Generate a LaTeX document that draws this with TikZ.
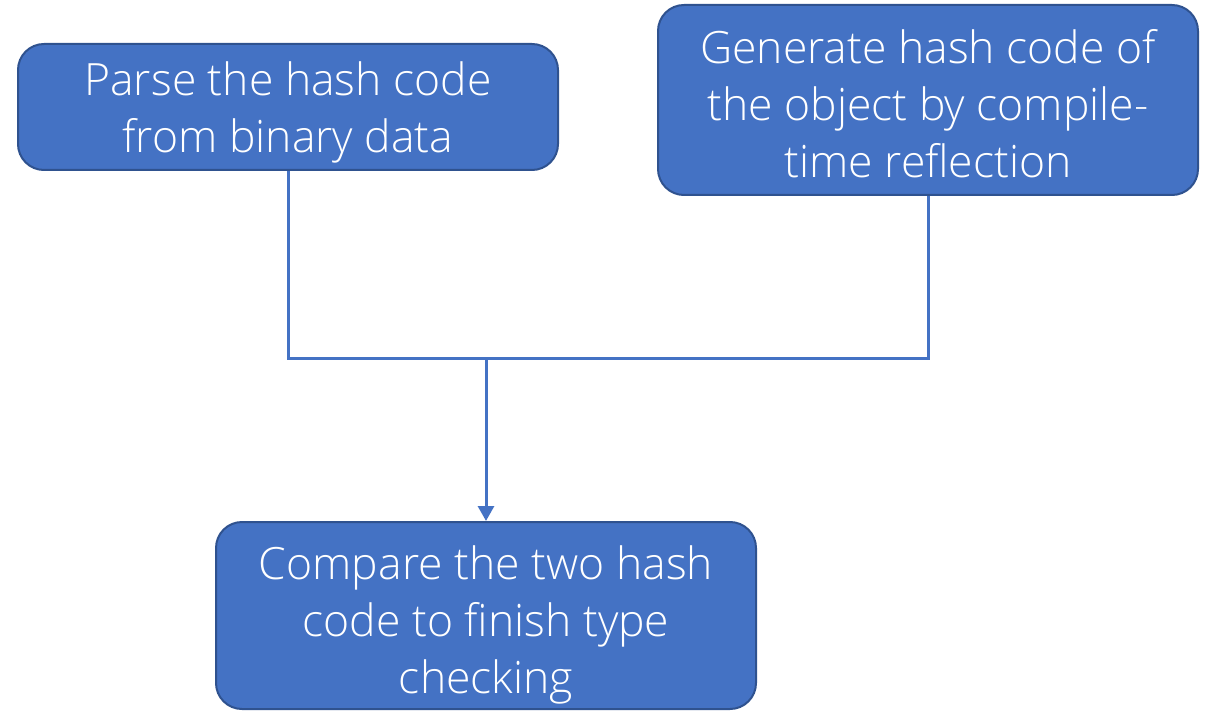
\documentclass[tikz,border=0pt]{standalone}
\usepackage{fontspec}
\setmainfont{Open Sans}[UprightFont=* Light]
\usetikzlibrary{arrows.meta}
\definecolor{boxfill}{HTML}{4472C4}
\definecolor{boxedge}{HTML}{2F528F}
\tikzset{
  stepbox/.style={draw=boxedge, line width=2pt, fill=boxfill, rounded corners=26pt,
    minimum width=540pt, inner sep=0pt},
  steptext/.style={text=white, align=center, inner sep=0pt,
    font=\fontsize{44.5}{57}\selectfont},
  conn/.style={draw=boxfill, line width=3pt},
}
\begin{document}
\begin{tikzpicture}[x=1pt,y=-1pt]
\useasboundingbox (0,0) rectangle (1209,711);
% process boxes
\node[stepbox, minimum height=126pt] (b1) at (288,107) {};
\node[stepbox, minimum height=190pt] (b2) at (928,100) {};
\node[stepbox, minimum height=187pt] (b3) at (486,615.5) {};
% box labels, set slightly below the geometric centre
\node[steptext] (t1) at (288,112) {Parse the hash code\\from binary data};
\node[steptext] (t2) at (928,104) {Generate hash code of\\the object by compile-\\time reflection};
\node[steptext] (t3) at (486,625) {Compare the two hash\\code to finish type\\checking};
% merge both results into the comparison step
\coordinate (j) at (486,358);
\draw[conn] (b1.south) |- (j) -| (b2.south);
\draw[conn, -{Triangle[width=16pt,length=15pt]}] (j) -- (b3.north);
\end{tikzpicture}
\end{document}
